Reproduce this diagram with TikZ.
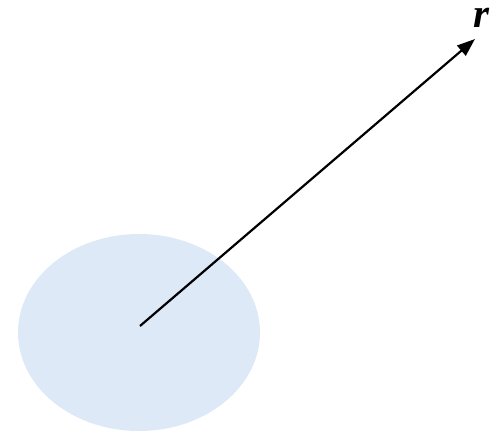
\documentclass[tikz,border=0pt]{standalone}
\usepackage{fontspec}
\setmainfont{Liberation Serif}
\usetikzlibrary{arrows.meta}
\begin{document}
\begin{tikzpicture}[x=1pt,y=-1pt,
  disk/.style={fill={rgb,255:red,221;green,233;blue,246}, draw=none},
  vec/.style={line width=2.2pt, -{Triangle[length=18pt,width=13pt]}}]
\useasboundingbox (0,0) rectangle (498,433);
\fill[disk] (139,332.5) ellipse [x radius=121, y radius=98.5];
\coordinate (o) at (140,326);
\coordinate (tip) at (475,39);
\draw[vec] (o) -- (tip);
\node[font=\bfseries\itshape\fontsize{41}{41}\selectfont, inner sep=0pt, text height=19pt, text depth=0pt, anchor=base] (r) at (481,28) {r};
\end{tikzpicture}
\end{document}
